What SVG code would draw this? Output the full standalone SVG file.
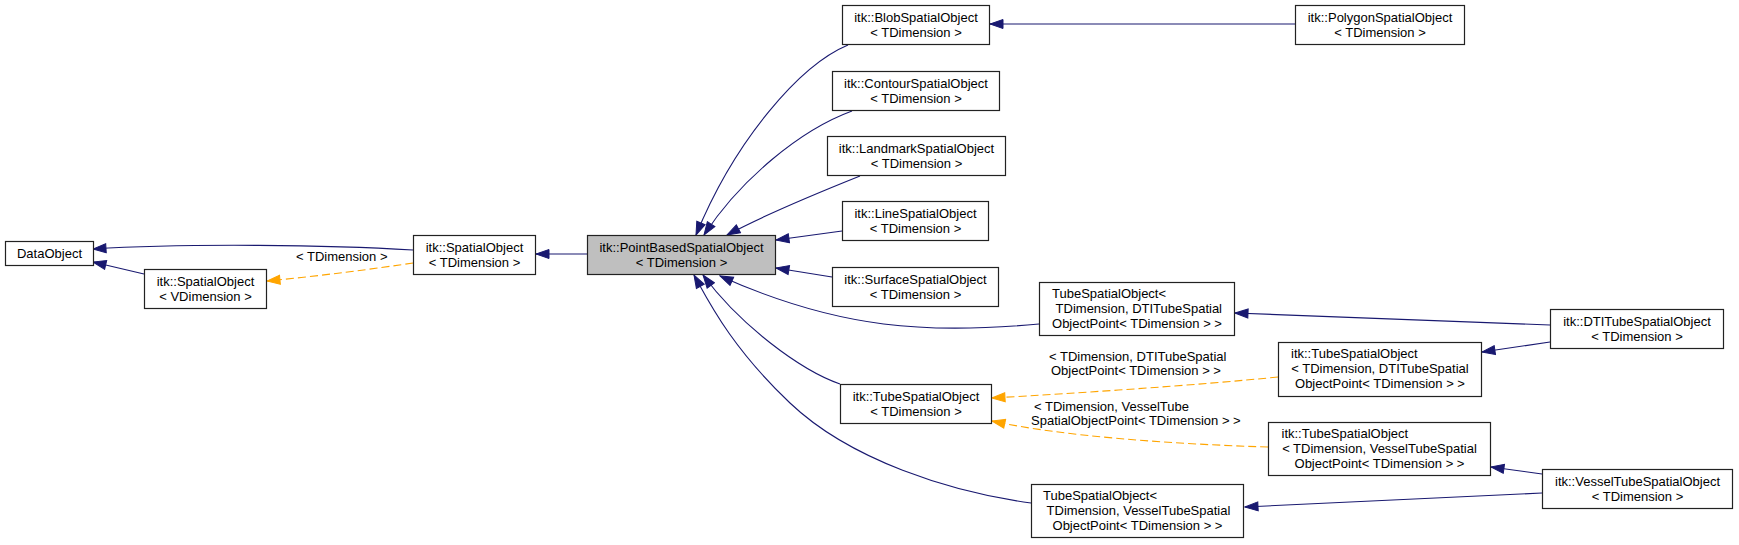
<svg xmlns="http://www.w3.org/2000/svg" width="1739" height="545" viewBox="0 0 1739 545">
<defs>
<marker id="ab" markerUnits="userSpaceOnUse" markerWidth="15" markerHeight="11" viewBox="0 0 15 11" refX="14" refY="5.5" orient="auto"><path d="M1,1 L14,5.5 L1,10 z" fill="#191970" stroke="#191970" stroke-width="1"/></marker>
<marker id="ao" markerUnits="userSpaceOnUse" markerWidth="15" markerHeight="11" viewBox="0 0 15 11" refX="14" refY="5.5" orient="auto"><path d="M1,1 L14,5.5 L1,10 z" fill="#ffa500" stroke="#ffa500" stroke-width="1"/></marker>
<style>
.n rect{fill:#ffffff;stroke:#222222;stroke-width:1.2}
.n rect.g{fill:#bfbfbf}
text{font-family:"Liberation Sans",Arial,Helvetica,sans-serif;font-size:13px;fill:#000000}
.m{text-anchor:middle}
.e{fill:none;stroke:#191970;stroke-width:1.1;marker-end:url(#ab)}
.t{fill:none;stroke:#ffa500;stroke-width:1.1;stroke-dasharray:8,4;marker-end:url(#ao)}
</style>
</defs>
<rect x="0" y="0" width="1739" height="545" fill="#ffffff"/>
<g id="connectors">
<path class="e" d="M413,250 C330,245 190,243 93,249"/>
<path class="e" d="M144,274 L93,262"/>
<path class="t" d="M413,263 C380,268 320,276 267,281"/>
<text x="296" y="261">&lt; TDimension &gt;</text>
<path class="e" d="M587,254 L536,254"/>
<path class="e" d="M848,45 C800,65 735,140 696,235"/>
<path class="e" d="M852,111 C800,130 740,180 704,235"/>
<path class="e" d="M860,176 C830,188 770,212 727,235"/>
<path class="e" d="M842,231 L776,240"/>
<path class="e" d="M832,277 L776,268"/>
<path class="e" d="M1039,324 C930,334 840,330 720,276"/>
<path class="e" d="M840,384 C800,370 740,325 703,275"/>
<path class="e" d="M1031,503 C950,492 850,460 790,403 S708,300 694,275"/>
<path class="t" d="M1278,377 C1200,385 1080,393 992,398"/>
<text x="1049" y="361">&lt; TDimension, DTITubeSpatial</text>
<text x="1051" y="375">ObjectPoint&lt; TDimension &gt; &gt;</text>
<path class="t" d="M1268,447 C1170,444 1060,436 992,421"/>
<text x="1034" y="411">&lt; TDimension, VesselTube</text>
<text x="1031" y="425">SpatialObjectPoint&lt; TDimension &gt; &gt;</text>
<path class="e" d="M1295,24 L990,24"/>
<path class="e" d="M1550,325 L1235,313"/>
<path class="e" d="M1550,342 L1482,352"/>
<path class="e" d="M1542,474 L1491,467"/>
<path class="e" d="M1542,493 L1245,507"/>
</g>
<g id="n_DataObject" class="n"><rect x="5.5" y="241.5" width="88" height="24"/><text class="m" x="49.5" y="258">DataObject</text></g>
<g id="n_SpatialObjectV" class="n"><rect x="144.5" y="269.5" width="122" height="39"/><text class="m" x="205.5" y="286">itk::SpatialObject</text><text class="m" x="205.5" y="300.5">&lt; VDimension &gt;</text></g>
<g id="n_SpatialObjectT" class="n"><rect x="413.5" y="235.5" width="122" height="39"/><text class="m" x="474.5" y="252">itk::SpatialObject</text><text class="m" x="474.5" y="266.5">&lt; TDimension &gt;</text></g>
<g id="n_PointBased" class="n"><rect class="g" x="587.5" y="235.5" width="188" height="39"/><text class="m" x="681.5" y="252">itk::PointBasedSpatialObject</text><text class="m" x="681.5" y="266.5">&lt; TDimension &gt;</text></g>
<g id="n_Blob" class="n"><rect x="842.5" y="5.5" width="147" height="39"/><text class="m" x="916" y="22">itk::BlobSpatialObject</text><text class="m" x="916" y="36.5">&lt; TDimension &gt;</text></g>
<g id="n_Contour" class="n"><rect x="832.5" y="71.5" width="167" height="39"/><text class="m" x="916" y="88">itk::ContourSpatialObject</text><text class="m" x="916" y="102.5">&lt; TDimension &gt;</text></g>
<g id="n_Landmark" class="n"><rect x="827.5" y="136.5" width="178" height="39"/><text class="m" x="916.5" y="153">itk::LandmarkSpatialObject</text><text class="m" x="916.5" y="167.5">&lt; TDimension &gt;</text></g>
<g id="n_Line" class="n"><rect x="842.5" y="201.5" width="146" height="39"/><text class="m" x="915.5" y="218">itk::LineSpatialObject</text><text class="m" x="915.5" y="232.5">&lt; TDimension &gt;</text></g>
<g id="n_Surface" class="n"><rect x="832.5" y="267.5" width="166" height="39"/><text class="m" x="915.5" y="284">itk::SurfaceSpatialObject</text><text class="m" x="915.5" y="298.5">&lt; TDimension &gt;</text></g>
<g id="n_Tube" class="n"><rect x="840.5" y="384.5" width="151" height="39"/><text class="m" x="916" y="401">itk::TubeSpatialObject</text><text class="m" x="916" y="415.5">&lt; TDimension &gt;</text></g>
<g id="n_Polygon" class="n"><rect x="1295.5" y="5.5" width="169" height="39"/><text class="m" x="1380" y="22">itk::PolygonSpatialObject</text><text class="m" x="1380" y="36.5">&lt; TDimension &gt;</text></g>
<g id="n_TubeDTIinst" class="n"><rect x="1039.5" y="282.5" width="195" height="53"/><text x="1052" y="298">TubeSpatialObject&lt;</text><text x="1055.6" y="313">TDimension, DTITubeSpatial</text><text class="m" x="1137" y="328">ObjectPoint&lt; TDimension &gt; &gt;</text></g>
<g id="n_itkTubeDTI" class="n"><rect x="1278.5" y="342.5" width="203" height="54"/><text x="1291" y="358">itk::TubeSpatialObject</text><text class="m" x="1380" y="373">&lt; TDimension, DTITubeSpatial</text><text class="m" x="1380" y="388">ObjectPoint&lt; TDimension &gt; &gt;</text></g>
<g id="n_itkTubeVessel" class="n"><rect x="1268.5" y="422.5" width="222" height="53"/><text x="1281.5" y="438">itk::TubeSpatialObject</text><text class="m" x="1379.5" y="453">&lt; TDimension, VesselTubeSpatial</text><text class="m" x="1379.5" y="468">ObjectPoint&lt; TDimension &gt; &gt;</text></g>
<g id="n_TubeVesselInst" class="n"><rect x="1031.5" y="484.5" width="212" height="53"/><text x="1043" y="500">TubeSpatialObject&lt;</text><text x="1046.6" y="515">TDimension, VesselTubeSpatial</text><text class="m" x="1137.5" y="530">ObjectPoint&lt; TDimension &gt; &gt;</text></g>
<g id="n_DTITube" class="n"><rect x="1550.5" y="309.5" width="173" height="39"/><text class="m" x="1637" y="326">itk::DTITubeSpatialObject</text><text class="m" x="1637" y="340.5">&lt; TDimension &gt;</text></g>
<g id="n_VesselTube" class="n"><rect x="1542.5" y="469.5" width="190" height="39"/><text class="m" x="1637.5" y="486">itk::VesselTubeSpatialObject</text><text class="m" x="1637.5" y="500.5">&lt; TDimension &gt;</text></g>
</svg>
